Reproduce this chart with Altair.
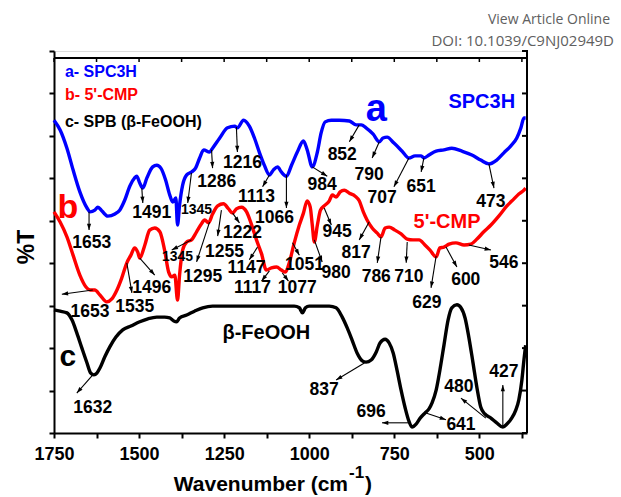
import math
import altair as alt
import pandas as pd

# ---------------- spectra: wavenumber (cm-1) and stacked %T (arbitrary units) ----------------
SPC3H_WN = [1750, 1732, 1712, 1694, 1674, 1653, 1644, 1630, 1621, 1609, 1592, 1571, 1557, 1542, 1527,
            1513, 1507, 1498, 1489, 1477, 1460, 1448, 1436, 1422, 1410, 1401, 1392, 1387, 1381, 1372,
            1360, 1346, 1334, 1322, 1310, 1293, 1284, 1263, 1240, 1219, 1211, 1193, 1176, 1161, 1146,
            1132, 1117, 1105, 1093, 1082, 1067, 1052, 1035, 1017, 1006, 991, 976, 965, 953, 935,
            912, 882, 862, 847, 833, 812, 794, 783, 771, 751, 727, 707, 689, 671, 663,
            648, 627, 604, 581, 551, 522, 496, 472, 449, 428, 408, 390, 378, 369, 364]
SPC3H_T = [73.7, 71.4, 67.1, 62.0, 56.8, 53.0, 52.1, 52.5, 53.2, 52.3, 51.1, 51.6, 52.5, 54.9, 58.2,
           60.1, 60.5, 58.9, 57.7, 60.1, 62.7, 63.1, 62.4, 59.6, 56.1, 54.4, 55.4, 49.0, 53.7, 58.4,
           60.8, 61.5, 62.4, 64.8, 66.7, 66.2, 67.1, 69.5, 71.9, 72.3, 71.9, 73.7, 72.3, 69.5, 66.0,
           63.1, 60.8, 62.0, 62.7, 61.5, 60.5, 63.1, 66.2, 68.8, 66.7, 62.7, 66.2, 70.7, 73.3, 73.7,
           73.7, 73.5, 72.6, 72.6, 71.9, 70.4, 68.6, 69.5, 69.7, 68.3, 66.4, 64.8, 65.3, 65.3, 64.8,
           65.5, 66.4, 66.7, 67.1, 66.4, 65.5, 64.3, 63.4, 64.3, 66.0, 67.6, 69.5, 71.9, 74.2, 74.2]

CMP_WN = [1750, 1732, 1712, 1694, 1674, 1656, 1644, 1630, 1615, 1595, 1580, 1565, 1551, 1536, 1524,
          1513, 1504, 1498, 1483, 1469, 1454, 1439, 1425, 1413, 1404, 1395, 1387, 1381, 1372, 1360,
          1346, 1331, 1319, 1307, 1296, 1284, 1269, 1252, 1237, 1225, 1214, 1199, 1184, 1170, 1155,
          1140, 1126, 1111, 1096, 1082, 1070, 1058, 1044, 1029, 1017, 1006, 997, 991, 985, 976,
          967, 956, 941, 932, 921, 909, 897, 882, 865, 853, 841, 830, 815, 800, 789,
          777, 765, 748, 730, 712, 695, 677, 660, 645, 627, 616, 604, 589, 569, 545,
          525, 507, 487, 466, 443, 419, 399, 384, 369, 364]
CMP_T = [52.1, 49.7, 46.2, 41.9, 37.2, 34.4, 33.7, 33.7, 32.5, 30.9, 31.6, 33.7, 36.5, 40.1, 41.9,
         43.6, 42.6, 41.2, 44.3, 47.8, 48.3, 47.4, 43.1, 37.9, 36.8, 37.2, 31.3, 37.2, 43.1, 45.0,
         45.5, 47.4, 49.0, 50.2, 49.5, 51.6, 53.5, 54.0, 52.8, 51.8, 52.8, 53.2, 52.1, 49.2, 45.5,
         42.2, 38.4, 38.9, 39.1, 38.4, 37.9, 40.3, 44.8, 49.0, 51.8, 54.7, 53.2, 49.0, 45.0, 49.0,
         52.5, 53.5, 54.7, 56.1, 55.6, 56.8, 57.2, 56.5, 55.8, 54.7, 52.1, 50.2, 48.3, 47.1, 46.2,
         48.3, 48.5, 47.8, 46.9, 45.7, 45.5, 45.5, 44.3, 43.1, 41.5, 43.6, 43.8, 44.5, 44.8, 44.3,
         44.5, 45.7, 47.4, 49.0, 51.1, 53.5, 55.1, 56.3, 57.2, 57.7]

FEOOH_WN = [1750, 1732, 1712, 1697, 1683, 1668, 1653, 1642, 1633, 1624, 1615, 1601, 1586, 1568, 1548,
            1524, 1498, 1474, 1448, 1425, 1410, 1398, 1390, 1381, 1360, 1337, 1313, 1284, 1205, 1108,
            1044, 1029, 1020, 1011, 1000, 941, 921, 903, 888, 874, 859, 844, 833, 818, 803,
            792, 777, 765, 753, 742, 730, 718, 707, 698, 686, 674, 660, 648, 639, 627,
            616, 604, 592, 581, 566, 554, 542, 531, 519, 507, 496, 484, 466, 449, 431,
            419, 405, 393, 384, 375, 369, 364]
FEOOH_T = [29.0, 28.7, 28.3, 26.6, 23.6, 20.0, 16.5, 14.1, 13.7, 14.1, 15.3, 17.9, 20.3, 22.6, 24.3,
           25.2, 26.2, 26.9, 27.3, 27.3, 27.1, 26.4, 26.2, 27.1, 27.8, 28.7, 29.5, 29.9, 29.9, 29.9,
           29.9, 29.5, 28.3, 29.5, 29.9, 29.9, 29.5, 27.3, 24.7, 21.9, 18.8, 17.0, 16.7, 17.2, 19.1,
           21.2, 22.1, 21.2, 18.8, 14.8, 10.1, 5.9, 2.8, 1.4, 2.1, 3.5, 4.7, 5.7, 7.1, 10.1,
           14.8, 20.7, 26.6, 29.5, 30.2, 29.5, 27.1, 22.6, 16.7, 10.6, 6.1, 4.5, 3.5, 2.4, 1.4,
           2.1, 3.5, 5.4, 7.8, 12.5, 17.2, 20.7]

SERIES = ["SPC3H", "5'-CMP", "SPB"]
SERIES_COLORS = ["#0000ff", "#ff0000", "#000000"]

# ---------------- band assignments: label, label position, arrow tail (on curve) and head ----------------
BAND_LABEL = ["1653", "1491", "1345", "1286", "1216", "1113", "1066", "984", "852", "790", "707", "651", "473",
              "1653", "1535", "1496", "1345", "1295", "1255", "1222", "1147", "1117", "1077", "1051", "980",
              "945", "817", "786", "710", "629", "600", "546",
              "1632", "837", "696", "641", "480", "427"]
BAND_SIZE = [17.5, 17.5, 14, 17.5, 17.5, 17.5, 17.5, 17.5, 17.5, 17.5, 17.5, 17.5, 17.5,
             17.5, 17.5, 17.5, 14, 17.5, 17.5, 17.5, 17.5, 17.5, 17.5, 17.5, 17.5,
             17.5, 17.5, 17.5, 17.5, 17.5, 17.5, 17.5,
             17.5, 17.5, 17.5, 17.5, 17.5, 17.5]
LABEL_WN = [1639, 1463, 1331, 1272, 1196, 1155, 1102, 962, 903, 824, 786, 671, 466,
            1644, 1513, 1463, 1387, 1313, 1249, 1196, 1184, 1167, 1035, 1014, 921,
            918, 862, 803, 707, 654, 540, 428,
            1636, 956, 818, 554, 560, 428]
LABEL_T = [44.8, 51.8, 52.5, 59.1, 63.6, 55.6, 50.7, 58.4, 65.5, 60.8, 55.4, 58.0, 54.4,
           28.5, 29.7, 34.2, 41.5, 36.8, 42.6, 47.1, 38.9, 34.2, 34.2, 39.6, 37.7,
           47.4, 42.4, 36.8, 36.8, 30.6, 36.0, 40.1,
           5.9, 10.1, 4.9, 1.9, 10.8, 14.4]
TAIL_WN = [1647, 1492, 1346, 1287, 1214, 1117, 1067, 991, 853, 794, 707, 663, 472,
           1636, 1536, 1498, 1346, 1293, 1258, 1225, 1152, 1117, 1079, 1049, 985,
           956, 824, 789, 712, 627, 598, 531,
           1636, 838, 707, 657, 481, 431]
TAIL_T = [52.1, 57.7, 61.3, 66.7, 72.1, 60.8, 60.8, 62.7, 72.6, 68.6, 64.8, 64.8, 63.4,
          33.7, 40.1, 41.2, 45.5, 49.7, 52.5, 51.8, 43.8, 38.2, 37.7, 44.8, 45.5,
          53.0, 49.7, 46.2, 45.0, 41.7, 43.8, 44.3,
          13.7, 16.5, 2.4, 4.7, 3.5, 1.4]
HEAD_WN = [1647, 1489, 1357, 1284, 1211, 1137, 1067, 947, 882, 815, 751, 671, 457,
           1727, 1521, 1454, 1404, 1331, 1269, 1205, 1176, 1140, 1061, 1029, 962,
           935, 853, 800, 715, 642, 566, 466,
           1683, 921, 786, 598, 554, 431]
HEAD_T = [47.8, 54.2, 54.2, 62.4, 66.2, 58.0, 53.0, 60.5, 68.6, 64.8, 58.0, 61.5, 57.7,
          32.7, 33.0, 37.2, 43.1, 40.3, 46.4, 49.5, 40.8, 35.8, 35.8, 41.9, 40.3,
          49.0, 45.5, 40.1, 40.1, 34.2, 39.1, 43.1,
          9.4, 12.5, 2.4, 3.1, 8.2, 11.3]

# ---------------- in-plot titles ----------------
TAG_TEXT = ["a- SPC3H", "b- 5'-CMP", "c- SPB (\u03b2-FeOOH)", "a", "SPC3H", "b", "5'-CMP", "c", "\u03b2-FeOOH"]
TAG_WN = [1718, 1718, 1718, 803, 493, 1709, 595, 1709, 1126]
TAG_T = [85.0, 79.6, 73.3, 76.1, 78.0, 53.0, 49.7, 17.9, 23.6]
TAG_COLOR = ["#0000ff", "#ff0000", "#000000", "#0000ff", "#0000ff", "#ff0000", "#ff0000", "#000000", "#000000"]
TAG_SIZE = [16, 16, 16, 38, 20, 34, 20, 30, 20]
TAG_ALIGN = ["left", "left", "left", "center", "center", "center", "center", "center", "center"]

X_TICKS = [1750, 1625, 1500, 1375, 1250, 1125, 1000, 875, 750, 625, 500, 375]
Y_TICKS = [0, 10, 20, 30, 40, 50, 60, 70, 80, 90]

W, H = 473, 382
X_DOM = [360, 1750]
Y_DOM = [0, 90]
BOLD = "Liberation Sans, Arial, sans-serif"

x_scale = alt.Scale(domain=X_DOM, reverse=True, nice=False, zero=False)
y_scale = alt.Scale(domain=Y_DOM, nice=False, zero=False)
x_axis = alt.Axis(values=X_TICKS, format="d", title=None, grid=False,
                  labelExpr="datum.value % 250 == 0 ? datum.label : ''",
                  labelFont=BOLD, labelFontSize=18, labelFontWeight="bold", labelColor="black",
                  labelPadding=7, tickSize=5, tickWidth=2, tickColor="black",
                  domainWidth=2, domainColor="black", labelFlush=False)
y_axis = alt.Axis(values=Y_TICKS, labels=False, title=None, grid=False,
                  tickSize=5, tickWidth=2, tickColor="black", domainWidth=2, domainColor="black")

rows = []
for name, wns, ts in zip(SERIES, [SPC3H_WN, CMP_WN, FEOOH_WN], [SPC3H_T, CMP_T, FEOOH_T]):
    for w, t in zip(wns, ts):
        rows.append({"series": name, "wn": w, "T": t})
spectra = pd.DataFrame(rows)

lines = alt.Chart(spectra).mark_line(strokeWidth=3.4, interpolate="monotone").encode(
    x=alt.X("wn:Q", scale=x_scale, axis=x_axis),
    y=alt.Y("T:Q", scale=y_scale, axis=y_axis),
    color=alt.Color("series:N", scale=alt.Scale(domain=SERIES, range=SERIES_COLORS), legend=None),
)

# arrows: thin shafts plus filled heads rotated along the shaft direction
px_x = W / (X_DOM[1] - X_DOM[0])
px_y = H / (Y_DOM[1] - Y_DOM[0])
angles = []
for tw, tt, hw, ht in zip(TAIL_WN, TAIL_T, HEAD_WN, HEAD_T):
    dx = -(hw - tw) * px_x
    dy = -(ht - tt) * px_y
    angles.append(math.degrees(math.atan2(dx, -dy)) % 360)

bands = pd.DataFrame({"label": BAND_LABEL, "size": BAND_SIZE, "lw": LABEL_WN, "lt": LABEL_T,
                      "tw": TAIL_WN, "tt": TAIL_T, "hw": HEAD_WN, "ht": HEAD_T, "angle": angles})

shafts = alt.Chart(bands).mark_rule(strokeWidth=1.1, color="black").encode(
    x=alt.X("tw:Q", scale=x_scale, axis=x_axis), x2="hw:Q",
    y=alt.Y("tt:Q", scale=y_scale, axis=y_axis), y2="ht:Q",
)
heads = alt.Chart(bands).mark_point(shape="M0,0L0.38,1.15L-0.38,1.15Z", filled=True, size=120,
                                    color="black", opacity=1, strokeWidth=0).encode(
    x=alt.X("hw:Q", scale=x_scale, axis=x_axis),
    y=alt.Y("ht:Q", scale=y_scale, axis=y_axis),
    angle=alt.Angle("angle:Q", scale=None),
)
band_text = alt.Chart(bands).mark_text(font=BOLD, fontWeight="bold", color="black",
                                       baseline="middle", align="center").encode(
    x=alt.X("lw:Q", scale=x_scale, axis=x_axis),
    y=alt.Y("lt:Q", scale=y_scale, axis=y_axis),
    text="label:N",
    size=alt.Size("size:Q", scale=None),
)

tags = pd.DataFrame({"text": TAG_TEXT, "wn": TAG_WN, "T": TAG_T, "color": TAG_COLOR,
                     "size": TAG_SIZE, "align": TAG_ALIGN})
tag_layers = []
for al in ["left", "center"]:
    tag_layers.append(
        alt.Chart(tags).transform_filter(alt.datum.align == al).mark_text(
            font=BOLD, fontWeight="bold", baseline="middle", align=al).encode(
            x=alt.X("wn:Q", scale=x_scale, axis=x_axis),
            y=alt.Y("T:Q", scale=y_scale, axis=y_axis),
            text="text:N",
            color=alt.Color("color:N", scale=None),
            size=alt.Size("size:Q", scale=None),
        )
    )

# frame: top border, right axis with inward ticks
frame_df = pd.DataFrame({"T": Y_TICKS})
top_border = alt.Chart(frame_df).mark_rule(strokeWidth=2, color="black").encode(
    x=alt.value(0), x2=alt.value(W), y=alt.value(7))
right_border = alt.Chart(frame_df).mark_rule(strokeWidth=2, color="black").encode(
    x=alt.value(W), y=alt.value(-1), y2=alt.value(H))
right_ticks = alt.Chart(frame_df).mark_rule(strokeWidth=2, color="black").encode(
    x=alt.value(W - 5), x2=alt.value(W), y=alt.Y("T:Q", scale=y_scale, axis=y_axis))
top_ticks = alt.Chart(pd.DataFrame({"wn": X_TICKS})).mark_rule(strokeWidth=1.5, color="black").encode(
    x=alt.X("wn:Q", scale=x_scale, axis=x_axis), y=alt.value(7), y2=alt.value(11))

one = pd.DataFrame({"k": [0]})
x_title = alt.Chart(one).mark_text(text="Wavenumber (cm", font=BOLD, fontWeight="bold", fontSize=21,
                                   align="right", baseline="middle").encode(
    x=alt.value(294), y=alt.value(434))
x_title_sup = alt.Chart(one).mark_text(text="-1", font=BOLD, fontWeight="bold", fontSize=17,
                                       align="left", baseline="middle").encode(
    x=alt.value(295), y=alt.value(422))
x_title_close = alt.Chart(one).mark_text(text=")", font=BOLD, fontWeight="bold", fontSize=21,
                                         align="left", baseline="middle").encode(
    x=alt.value(311), y=alt.value(434))
y_title = alt.Chart(one).mark_text(text="%T", font=BOLD, fontWeight="bold", fontSize=23, angle=270,
                                   align="center", baseline="middle").encode(
    x=alt.value(-27), y=alt.value(196))
header1 = alt.Chart(one).mark_text(text="View Article Online", font="Open Sans", fontSize=14,
                                   color="#606060", align="right", baseline="middle").encode(
    x=alt.value(556), y=alt.value(-31))
header2 = alt.Chart(one).mark_text(text="DOI: 10.1039/C9NJ02949D", font="Open Sans", fontSize=15,
                                   color="#606060", align="right", baseline="middle").encode(
    x=alt.value(560), y=alt.value(-10))

chart = alt.layer(
    lines, shafts, heads, band_text, *tag_layers,
    top_border, right_border, right_ticks, top_ticks,
    x_title, x_title_sup, x_title_close, y_title, header1, header2,
).properties(
    width=W, height=H,
    autosize=alt.AutoSizeParams(type="none"),
    padding={"left": 54, "top": 51, "right": 94, "bottom": 64},
).configure_view(stroke=None).configure(background="white")

chart.save("out.html", embed_options={"renderer": "svg", "actions": False})
